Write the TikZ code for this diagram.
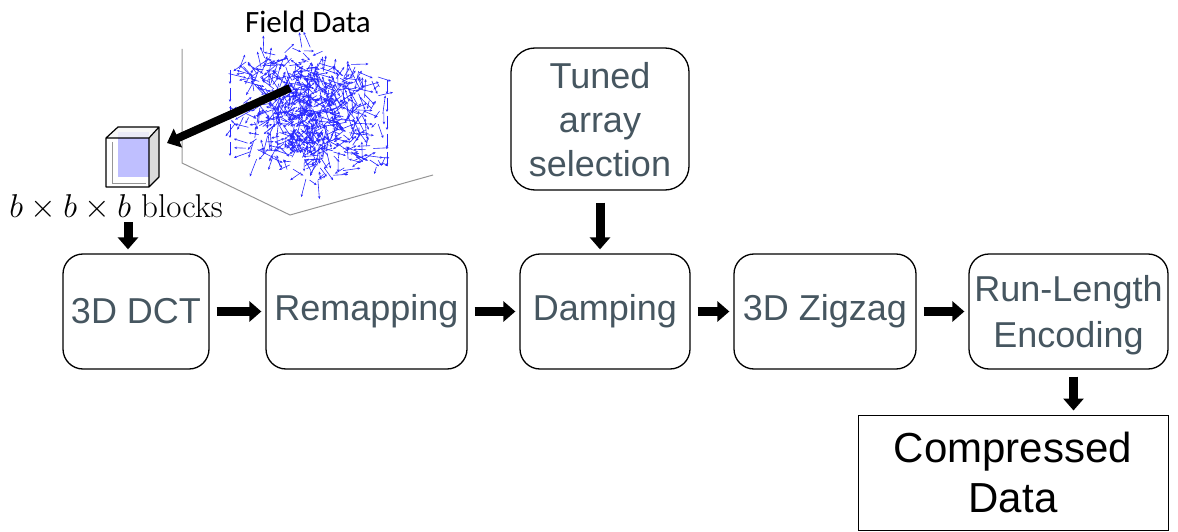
\RequirePackage{fix-cm}
\documentclass[tikz,border=0pt]{standalone}
\usepackage{fontspec}
\setsansfont{Liberation Sans}
\newfontfamily\calfont{Carlito}
\usetikzlibrary{arrows.meta,calc,positioning}

\definecolor{slate}{RGB}{70,86,96}
\definecolor{axisgray}{RGB}{150,150,150}

\tikzset{every picture/.style={line width=0.75pt}}
\tikzset{
  stage/.style={draw, rounded corners=20pt, line width=1.3pt, minimum height=115pt,
    text=slate, font=\sffamily\fontsize{36}{46}\selectfont, align=center, inner sep=2pt},
  flow/.style={line width=9pt, -{Triangle[length=12pt,width=20pt]}, shorten <=7pt, shorten >=4pt},
  vec/.style={blue!85, line width=0.6pt, -{Stealth[length=2.8pt,width=2.4pt]}},
}

\begin{document}
\begin{tikzpicture}[x=1pt,y=-1pt]
\useasboundingbox (0,0) rectangle (1178,532);

% axes behind the field data
\draw[axisgray, line width=1pt] (182,49) -- (182,163) -- (290,215) -- (433,175);

% field data: random vectors inside a cube
\pgfmathsetseed{11}
\foreach \k in {1,...,700}{
  \pgfmathsetmacro{\u}{rnd}
  \pgfmathsetmacro{\v}{rnd}
  \pgfmathsetmacro{\w}{rnd}
  \pgfmathsetmacro{\ang}{360*rnd}
  \pgfmathsetmacro{\len}{6+13*rnd}
  \draw[vec] ($(228,60)+\u*(75,-20)+\v*(84,30)+\w*(0,97)$) -- ++(\ang:\len);
}
% vectors along the side edges
\foreach \s in {0,1}{
  \foreach \t in {0,0.2,...,0.81}{
    \draw[vec] ($(230,70)+\s*(157,10)+\t*(0,90)$) -- ++(0,14);
  }
}
\node[font=\calfont\fontsize{31}{34}\selectfont] (field) at (308,22) {Field Data};
\coordinate (pick) at (290,88);

% one b x b x b block
\fill[blue!25] (118,132) rectangle (149,177);
\draw[axisgray, line width=0.4pt] (112,142) -- (112,183) -- (146,183);
\fill[gray!35, opacity=0.8] (149,138) -- (159,127) -- (159,177) -- (149,187) -- cycle;
\fill[gray!8, opacity=0.8] (106,138) -- (118,127) -- (159,127) -- (149,138) -- cycle;
\draw[line width=1.2pt, line join=round] (106,138) rectangle (149,187)
  (106,138) -- (118,127) -- (159,127) -- (149,138)
  (159,127) -- (159,177) -- (149,187);
\coordinate (block) at (167,143);
\node[font=\fontsize{33}{38}\selectfont] (blocks) at (116,207) {$b\times b\times b$ blocks};

% main pipeline
\node[stage, minimum width=146pt] (dct) at (136,311.5) {3D DCT};
\node[stage, minimum width=201pt] (remap) at (366.5,311.5) {Remapping};
\node[stage, minimum width=170pt] (damp) at (605,311.5) {Damping};
\node[stage, minimum width=182pt] (zig) at (825,311.5) {3D Zigzag};
\node[stage, minimum width=199pt, text depth=0pt] (rle) at (1068.5,311.5) {Run-Length\\Encoding};
\node[stage, minimum width=178pt, minimum height=142pt, rounded corners=24pt, text depth=0pt,
  font=\sffamily\fontsize{36}{44}\selectfont] (tuned) at (600,119) {Tuned\\array\\selection};
\node[draw, line width=1pt, minimum width=310pt, minimum height=115pt, align=center,
  font=\sffamily\fontsize{42}{50}\selectfont] (cdata) at (1013,472.5) {Compressed\\Data};

% connectors
\draw[line width=8pt, -{Triangle[length=12pt,width=20pt]}] (pick) -- (block);
\draw[flow, shorten <=0pt] ([xshift=-8pt]dct.north |- 0,222) -- ([xshift=-8pt]dct.north);
\draw[flow] (dct) -- (remap);
\draw[flow] (remap) -- (damp);
\draw[flow] (damp) -- (zig);
\draw[flow] (zig) -- (rle);
\draw[flow, shorten <=12pt] (tuned.south) -- (tuned.south |- damp.north);
\draw[flow] ([xshift=5pt]rle.south) -- ([xshift=5pt]rle.south |- cdata.north);

\end{tikzpicture}
\end{document}
